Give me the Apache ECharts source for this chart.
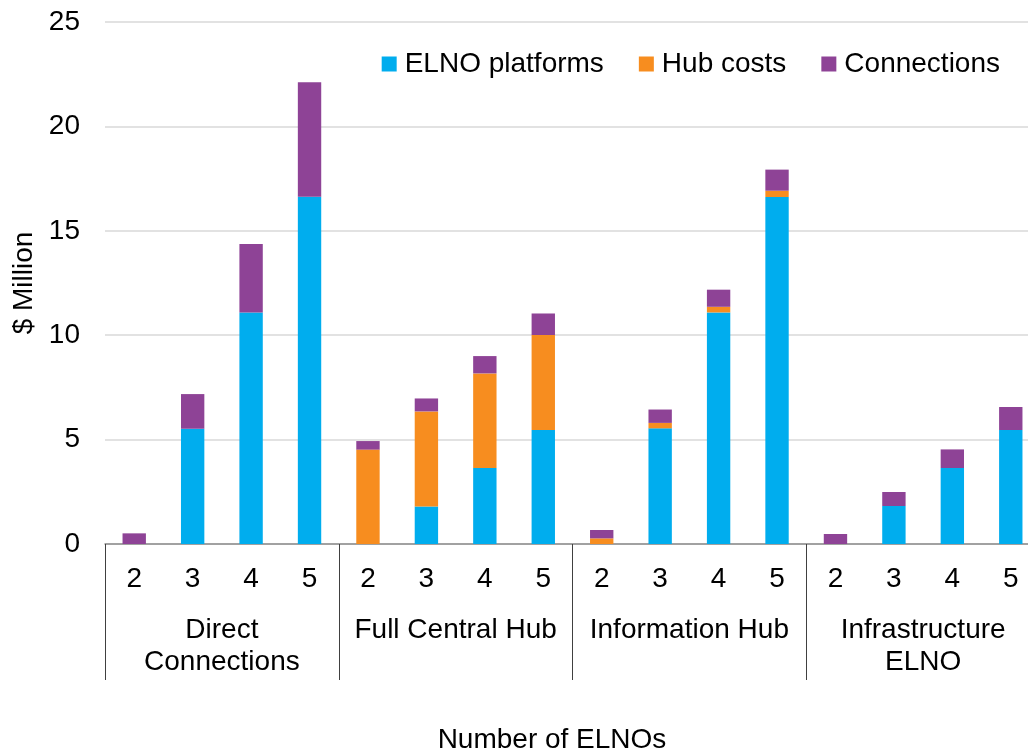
<!DOCTYPE html>
<html>
<head>
<meta charset="utf-8">
<title>Cost by number of ELNOs</title>
<script src="https://cdn.jsdelivr.net/npm/echarts@6/dist/echarts.min.js"></script>
<style>
  html, body { margin: 0; padding: 0; background: #ffffff; overflow: hidden; }
  #chart { width: 1042px; height: 755px; }
</style>
</head>
<body>
<div id="chart"></div>
<script>
// Architectures (outer axis level) and ELNO counts (inner axis level)
const groups = ['Direct\nConnections', 'Full Central Hub', 'Information Hub', 'Infrastructure\nELNO'];
const elnoCounts = ['2', '3', '4', '5'];

// Cost components, $ million, 4 values per architecture (2..5 ELNOs)
const elnoPlatforms = [0, 5.52, 11.09, 16.63,   0, 1.80, 3.64, 5.46,   0, 5.54, 11.09, 16.62,   0, 1.82, 3.64, 5.46];
const hubCosts      = [0, 0, 0, 0,              4.52, 4.55, 4.53, 4.55, 0.27, 0.26, 0.27, 0.30,  0, 0, 0, 0];
const connections   = [0.51, 1.66, 3.28, 5.48,  0.41, 0.62, 0.83, 1.03, 0.40, 0.64, 0.82, 1.01,  0.48, 0.67, 0.89, 1.10];

const yTicks = { min: 0, max: 25, interval: 5 };

const categories = [];
groups.forEach(() => elnoCounts.forEach(n => categories.push(n)));

const font = 'Liberation Sans, Arial, Helvetica, sans-serif';
const chart = echarts.init(document.getElementById('chart'), null, { renderer: 'canvas' });

function barSeries(name, data, color) {
  return {
    name: name,
    type: 'bar',
    stack: 'total',
    xAxisIndex: 0,
    barWidth: '40%',
    data: data,
    itemStyle: { color: color },
    emphasis: { disabled: true }
  };
}

chart.setOption({
  animation: false,
  backgroundColor: '#ffffff',
  textStyle: { fontFamily: font },
  grid: { left: 105, right: 2, top: 22, bottom: 211, containLabel: false },
  legend: {
    right: 37,
    top: 45,
    itemWidth: 15,
    itemHeight: 15,
    itemGap: 35,
    icon: 'rect',
    textStyle: { fontSize: 28, color: '#000000', fontFamily: font, padding: [0, 0, 0, 3] },
    data: ['ELNO platforms', 'Hub costs', 'Connections']
  },
  xAxis: [
    {
      type: 'category',
      data: categories,
      position: 'bottom',
      axisLine: { show: true, lineStyle: { color: '#8c8c8c', width: 1.5 } },
      axisTick: { show: false },
      axisLabel: { interval: 0, fontSize: 28, color: '#000000', margin: 21, fontFamily: font }
    },
    {
      type: 'category',
      data: groups,
      position: 'bottom',
      axisLine: { show: false },
      axisTick: { show: true, length: 136, alignWithLabel: false, lineStyle: { color: '#404040', width: 1 } },
      axisLabel: { interval: 0, fontSize: 28, color: '#000000', margin: 70, lineHeight: 32, fontFamily: font }
    }
  ],
  yAxis: {
    type: 'value',
    min: yTicks.min,
    max: yTicks.max,
    interval: yTicks.interval,
    name: '$ Million',
    nameLocation: 'middle',
    nameRotate: 90,
    nameGap: 64,
    nameTextStyle: { fontSize: 28, color: '#000000', fontFamily: font },
    axisLine: { show: false },
    axisTick: { show: false },
    axisLabel: { fontSize: 28, color: '#000000', margin: 25, fontFamily: font },
    splitLine: { lineStyle: { color: '#d9d9d9', width: 1.5 } }
  },
  graphic: [
    {
      type: 'text',
      x: 552,
      y: 740,
      style: {
        text: 'Number of ELNOs',
        fontSize: 28,
        fontFamily: font,
        fill: '#000000',
        textAlign: 'center',
        textVerticalAlign: 'middle'
      }
    }
  ],
  series: [
    barSeries('ELNO platforms', elnoPlatforms, '#00adee'),
    barSeries('Hub costs', hubCosts, '#f78d1f'),
    barSeries('Connections', connections, '#8e4396')
  ]
});
</script>
</body>
</html>
